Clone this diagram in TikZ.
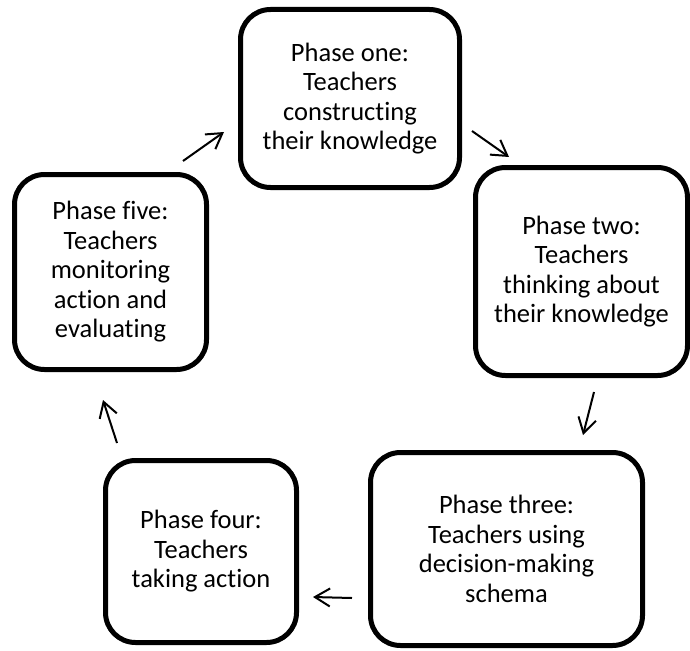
\documentclass[tikz,border=0pt]{standalone}
\usepackage{fontspec}
\setmainfont[Ligatures=NoCommon]{Carlito}
\usetikzlibrary{arrows.meta}
\begin{document}
\begin{tikzpicture}[x=1pt,y=-1pt,
  phase/.style={draw, line width=5pt, rounded corners=30pt, align=center,
    font=\fontsize{26.5}{29.5}\selectfont, inner sep=0pt},
  flow/.style={line width=2pt,
    -{Straight Barb[length=15pt,width=18pt,line width=2pt]}}]
\useasboundingbox (0,0) rectangle (690,650);

% the five phases of the cycle
\node[phase, minimum width=219pt, minimum height=178pt] (p1) at (350,98.5)
  {Phase one:\\Teachers\\constructing\\their knowledge};
\node[phase, minimum width=212pt, minimum height=208pt] (p2) at (581.5,271.5)
  {Phase two:\\Teachers\\thinking about\\their knowledge};
\node[phase, minimum width=272pt, minimum height=193pt] (p3) at (506.5,549)
  {Phase three:\\Teachers using\\decision-making\\schema};
\node[phase, minimum width=191pt, minimum height=182pt] (p4) at (201,551.5)
  {Phase four:\\Teachers\\taking action};
\node[phase, minimum width=192pt, minimum height=195pt] (p5) at (110.5,272)
  {Phase five:\\Teachers\\monitoring\\action and\\evaluating};

% ends of the short arrows between the phases
\coordinate (a1s) at (183,161);  \coordinate (a1e) at (224,132);
\coordinate (a2s) at (472,131);  \coordinate (a2e) at (509,157);
\coordinate (a3s) at (594,392);  \coordinate (a3e) at (583,435);
\coordinate (a4s) at (352,598);  \coordinate (a4e) at (313,597);
\coordinate (a5s) at (117,443);  \coordinate (a5e) at (103,400);

\draw[flow] (a1s) -- (a1e);
\draw[flow] (a2s) -- (a2e);
\draw[flow] (a3s) -- (a3e);
\draw[flow] (a4s) -- (a4e);
\draw[flow] (a5s) -- (a5e);
\end{tikzpicture}
\end{document}
